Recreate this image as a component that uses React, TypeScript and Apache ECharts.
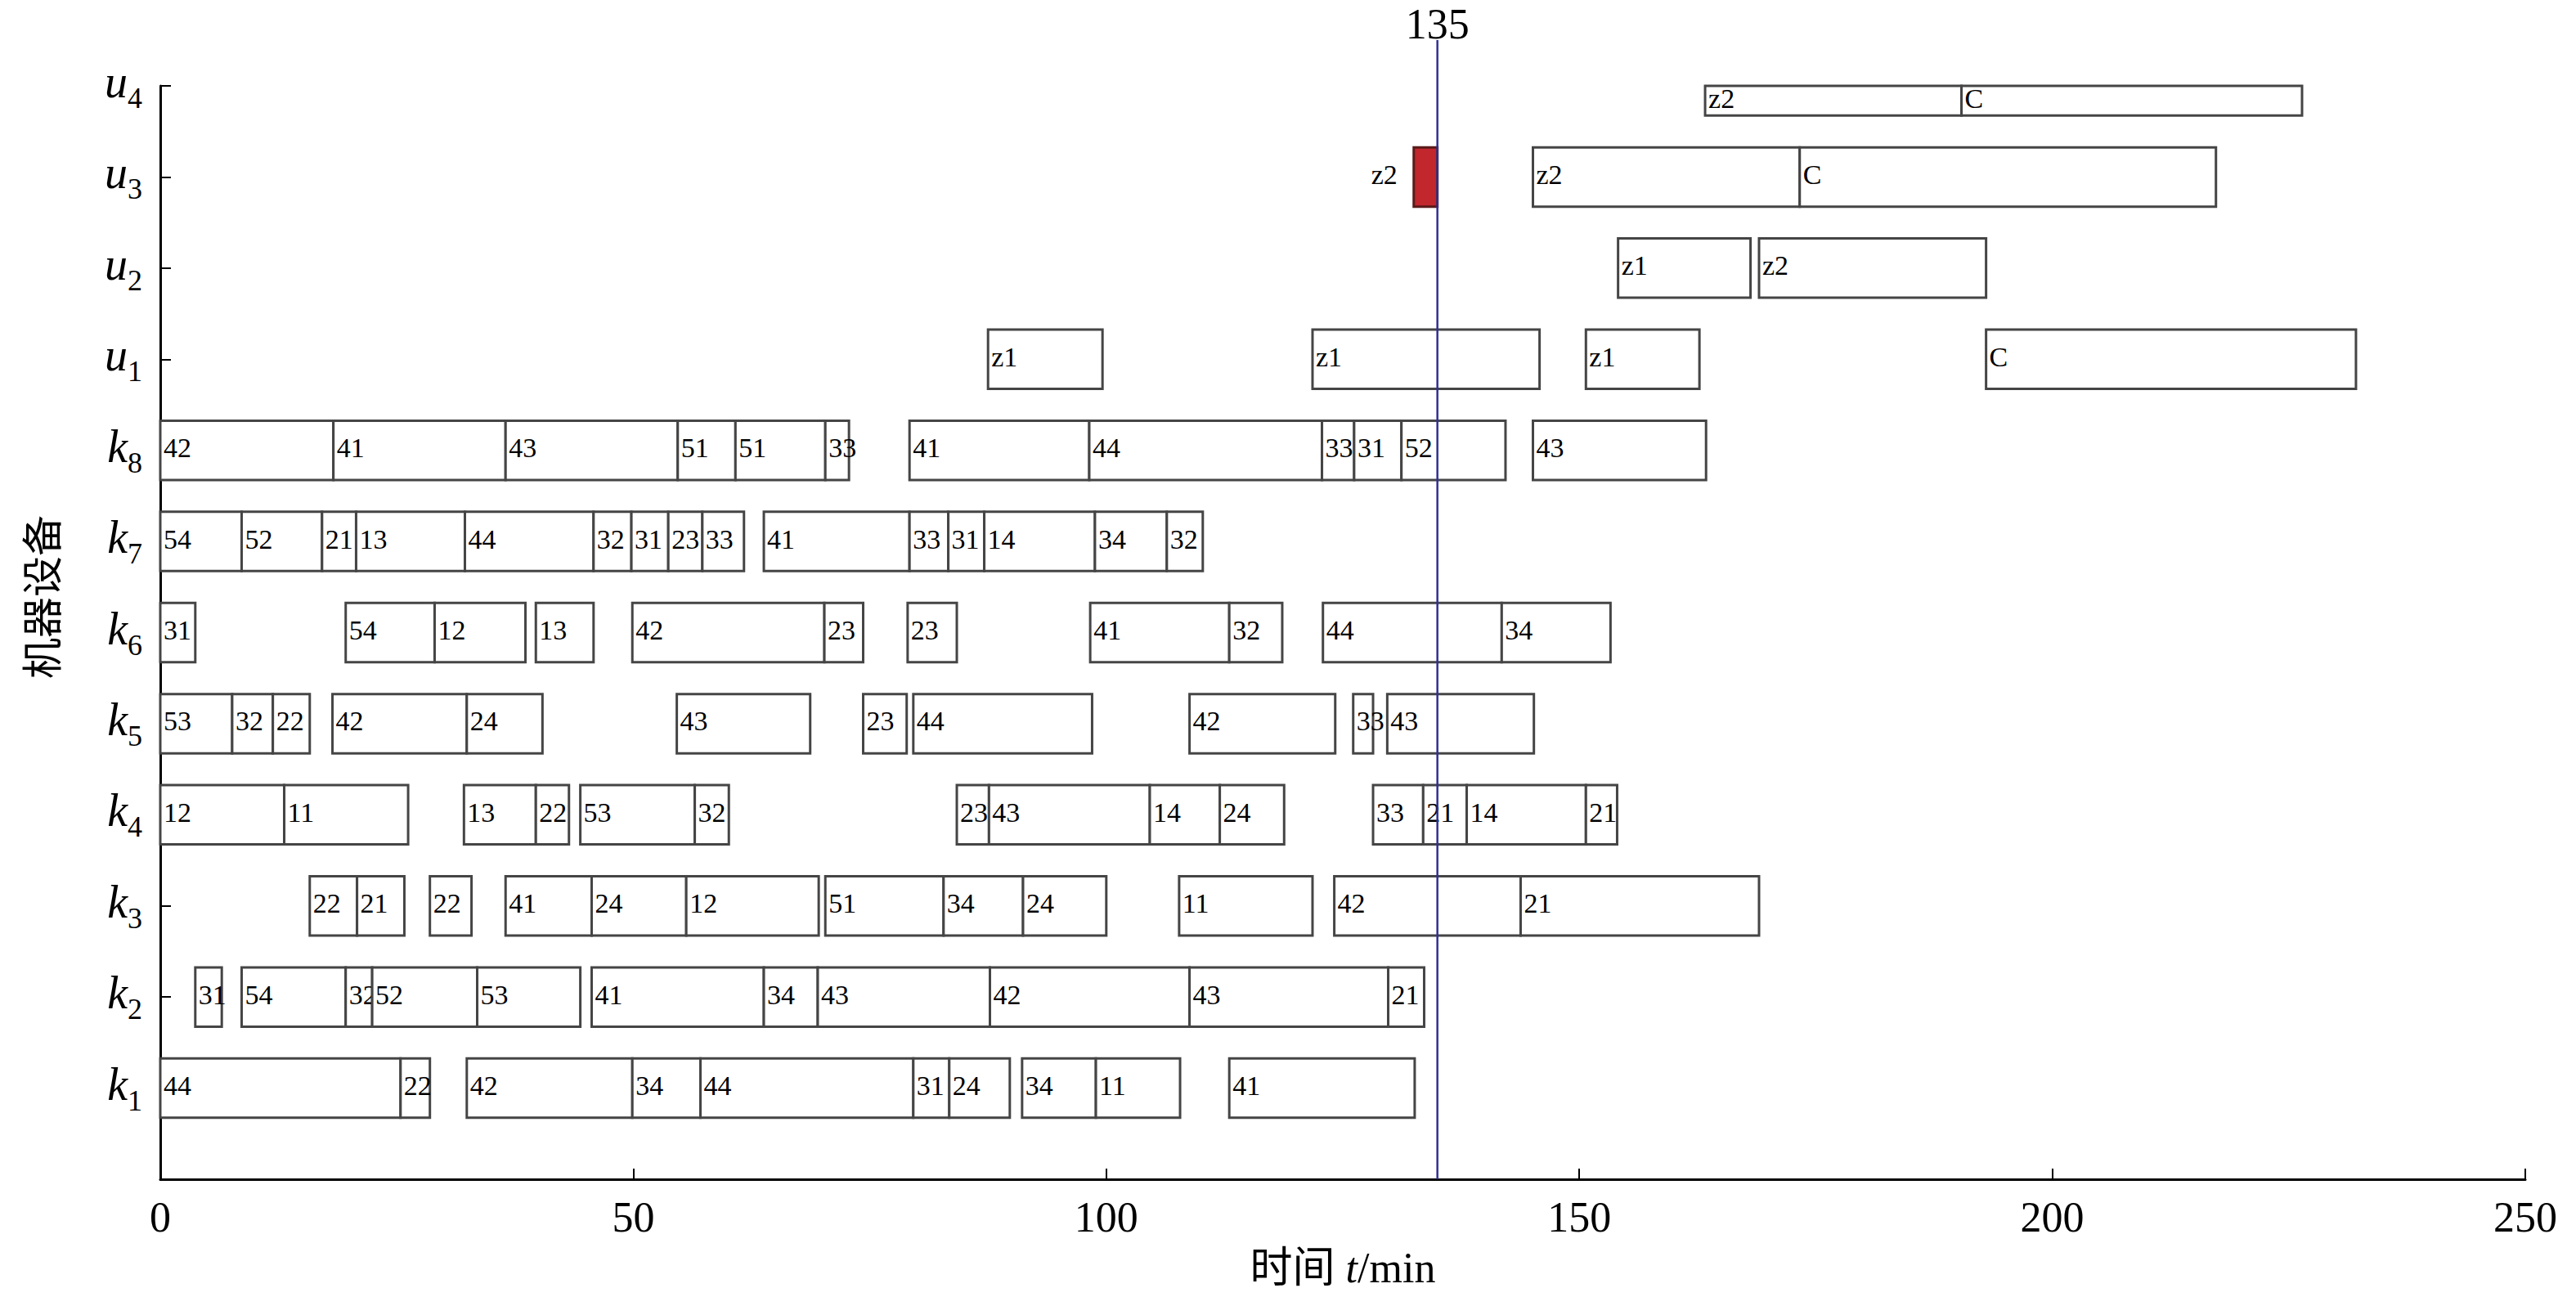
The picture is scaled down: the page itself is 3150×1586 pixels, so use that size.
import React, { useEffect, useRef } from "react";
import * as echarts from "echarts";

// machine rows, bottom to top
const machines = ["k1", "k2", "k3", "k4", "k5", "k6", "k7", "k8", "u1", "u2", "u3", "u4"];

// [start, end, operation] per machine (minutes)
const k1 = [[0, 25.4, "44"], [25.4, 28.5, "22"], [32.4, 49.9, "42"], [49.9, 57.1, "34"], [57.1, 79.6, "44"], [79.6, 83.4, "31"], [83.4, 89.8, "24"], [91.1, 98.9, "34"], [98.9, 107.8, "11"], [113, 132.6, "41"]];
const k2 = [[3.7, 6.5, "31"], [8.6, 19.6, "54"], [19.6, 22.4, "32"], [22.4, 33.5, "52"], [33.5, 44.4, "53"], [45.6, 63.8, "41"], [63.8, 69.5, "34"], [69.5, 87.7, "43"], [87.7, 108.8, "42"], [108.8, 129.8, "43"], [129.8, 133.6, "21"]];
const k3 = [[15.8, 20.8, "22"], [20.8, 25.8, "21"], [28.5, 32.9, "22"], [36.5, 45.6, "41"], [45.6, 55.6, "24"], [55.6, 69.6, "12"], [70.3, 82.8, "51"], [82.8, 91.2, "34"], [91.2, 100, "24"], [107.7, 121.8, "11"], [124.1, 143.8, "42"], [143.8, 169, "21"]];
const k4 = [[0, 13.1, "12"], [13.1, 26.2, "11"], [32.1, 39.7, "13"], [39.7, 43.2, "22"], [44.4, 56.5, "53"], [56.5, 60.1, "32"], [84.2, 87.6, "23"], [87.6, 104.6, "43"], [104.6, 112, "14"], [112, 118.8, "24"], [128.2, 133.5, "33"], [133.5, 138.1, "21"], [138.1, 150.7, "14"], [150.7, 154, "21"]];
const k5 = [[0, 7.6, "53"], [7.6, 11.9, "32"], [11.9, 15.8, "22"], [18.2, 32.4, "42"], [32.4, 40.4, "24"], [54.6, 68.7, "43"], [74.3, 78.9, "23"], [79.6, 98.5, "44"], [108.8, 124.2, "42"], [126.1, 128.2, "33"], [129.7, 145.2, "43"]];
const k6 = [[0, 3.7, "31"], [19.6, 29, "54"], [29, 38.6, "12"], [39.7, 45.8, "13"], [49.9, 70.2, "42"], [70.2, 74.3, "23"], [79, 84.2, "23"], [98.3, 113, "41"], [113, 118.6, "32"], [122.9, 141.8, "44"], [141.8, 153.3, "34"]];
const k7 = [[0, 8.6, "54"], [8.6, 17.1, "52"], [17.1, 20.7, "21"], [20.7, 32.2, "13"], [32.2, 45.8, "44"], [45.8, 49.8, "32"], [49.8, 53.7, "31"], [53.7, 57.3, "23"], [57.3, 61.7, "33"], [63.8, 79.2, "41"], [79.2, 83.3, "33"], [83.3, 87.1, "31"], [87.1, 98.8, "14"], [98.8, 106.4, "34"], [106.4, 110.2, "32"]];
const k8 = [[0, 18.3, "42"], [18.3, 36.5, "41"], [36.5, 54.7, "43"], [54.7, 60.8, "51"], [60.8, 70.3, "51"], [70.3, 72.8, "33"], [79.2, 98.2, "41"], [98.2, 122.8, "44"], [122.8, 126.2, "33"], [126.2, 131.2, "31"], [131.2, 142.2, "52"], [145.1, 163.4, "43"]];
const u1 = [[87.5, 99.6, "z1"], [121.8, 145.8, "z1"], [150.7, 162.7, "z1"], [193, 232.1, "C"]];
const u2 = [[154.1, 168.1, "z1"], [169, 193, "z2"]];
const u3 = [[145.1, 173.3, "z2"], [173.3, 217.3, "C"]];
const u4 = [[163.3, 190.4, "z2"], [190.4, 226.4, "C"]];

// breakdown (red) task on u3
const breakdownRow = "u3";
const breakdown = [[132.5, 135, "z2"]];

// rescheduling moment
const currentTime = 135;

const xTicks = { min: 0, max: 250, interval: 50 };

const rows = [k1, k2, k3, k4, k5, k6, k7, k8, u1, u2, u3, u4];

type Item = { start: number; end: number; y: number; label: string; red: boolean };

const items: Item[] = [];
rows.forEach((row, i) => {
  row.forEach((s: any) => items.push({ start: s[0], end: s[1], y: i + 1, label: s[2], red: false }));
});
breakdown.forEach((s: any) =>
  items.push({ start: s[0], end: s[1], y: machines.indexOf(breakdownRow) + 1, label: s[2], red: true })
);

const SERIF = '"Liberation Serif", "Times New Roman", "Noto Sans CJK SC", serif';

export default function App() {
  const ref = useRef<HTMLDivElement>(null);

  useEffect(() => {
    if (!ref.current) return;
    const chart = echarts.init(ref.current, undefined, { renderer: "svg" });

    const option: any = {
      animation: false,
      backgroundColor: "#ffffff",
      grid: { left: 196, right: 62, top: 105, bottom: 144, containLabel: false },
      xAxis: {
        type: "value",
        min: xTicks.min,
        max: xTicks.max,
        interval: xTicks.interval,
        name: "{a|时间 }{b|t}{a|/min}",
        nameLocation: "middle",
        nameGap: 82,
        nameTextStyle: {
          rich: {
            a: { fontFamily: SERIF, fontSize: 52, color: "#000" },
            b: { fontFamily: SERIF, fontSize: 52, fontStyle: "italic", color: "#000" },
          },
        },
        axisLine: { show: true, lineStyle: { color: "#000", width: 3 } },
        axisTick: { show: true, inside: true, length: 13, lineStyle: { color: "#000", width: 2 } },
        axisLabel: { fontFamily: SERIF, fontSize: 52, color: "#000", margin: 20 },
        splitLine: { show: false },
      },
      yAxis: {
        type: "value",
        min: 0,
        max: 12,
        interval: 1,
        axisLine: { show: true, lineStyle: { color: "#000", width: 3 } },
        axisTick: { show: true, inside: true, length: 13, lineStyle: { color: "#000", width: 2 } },
        splitLine: { show: false },
        axisLabel: {
          margin: 22,
          formatter: (v: number) => {
            if (v < 1 || v > 12) return "";
            const m = machines[Math.round(v) - 1];
            return "{k|" + m[0] + "}{s|" + m.slice(1) + "}";
          },
          rich: {
            k: { fontFamily: SERIF, fontStyle: "italic", fontSize: 56, color: "#000", lineHeight: 66, verticalAlign: "top" },
            s: { fontFamily: SERIF, fontSize: 36, color: "#000", lineHeight: 66, verticalAlign: "bottom" },
          },
        },
      },
      graphic: [
        {
          type: "text",
          x: 48,
          y: 730,
          rotation: Math.PI / 2,
          style: {
            text: "机器设备",
            fontFamily: '"Noto Sans CJK SC", sans-serif',
            fontSize: 50,
            fill: "#000",
            align: "center",
            verticalAlign: "middle",
          },
        },
      ],
      series: [
        {
          type: "custom",
          clip: false,
          data: items.map((d) => [d.start, d.end, d.y]),
          encode: { x: [0, 1], y: 2 },
          renderItem: (params: any, api: any) => {
            const it = items[params.dataIndex];
            const p0 = api.coord([api.value(0), api.value(2)]);
            const p1 = api.coord([api.value(1), api.value(2)]);
            const h = api.size([0, 1])[1] * 0.65;
            const cs = params.coordSys;
            const rect = echarts.graphic.clipRectByRect(
              { x: p0[0], y: p0[1] - h / 2, width: p1[0] - p0[0], height: h },
              { x: cs.x, y: cs.y, width: cs.width, height: cs.height }
            );
            if (!rect) return;
            const cy = rect.y + rect.height / 2 - 3;
            return {
              type: "group",
              children: [
                {
                  type: "rect",
                  shape: rect,
                  style: it.red
                    ? { fill: "#C1272D", stroke: "#5a1b1b", lineWidth: 3 }
                    : { fill: "#ffffff", stroke: "#454545", lineWidth: 3 },
                },
                {
                  type: "text",
                  x: it.red ? rect.x - 20 : rect.x + 4,
                  y: cy,
                  style: {
                    text: it.label,
                    fontFamily: SERIF,
                    fontSize: 34,
                    fill: "#000",
                    align: it.red ? "right" : "left",
                    verticalAlign: "middle",
                  },
                },
              ],
            };
          },
        },
        {
          type: "custom",
          clip: false,
          z: 10,
          data: [[currentTime]],
          encode: { x: 0 },
          renderItem: (params: any, api: any) => {
            const top = api.coord([api.value(0), 12]);
            const bot = api.coord([api.value(0), 0]);
            return {
              type: "group",
              children: [
                {
                  type: "line",
                  shape: { x1: top[0], y1: top[1] - 56, x2: bot[0], y2: bot[1] },
                  style: { stroke: "#2E3192", lineWidth: 2.5 },
                },
                {
                  type: "text",
                  x: top[0],
                  y: top[1] - 76,
                  style: {
                    text: String(currentTime),
                    fontFamily: SERIF,
                    fontSize: 52,
                    fill: "#000",
                    align: "center",
                    verticalAlign: "middle",
                  },
                },
              ],
            };
          },
        },
      ],
    };

    chart.setOption(option);
    return () => chart.dispose();
  }, []);

  return (
    <div
      ref={ref}
      style={{ position: "absolute", left: 0, top: 0, width: 3150, height: 1586, background: "#fff" }}
    />
  );
}
